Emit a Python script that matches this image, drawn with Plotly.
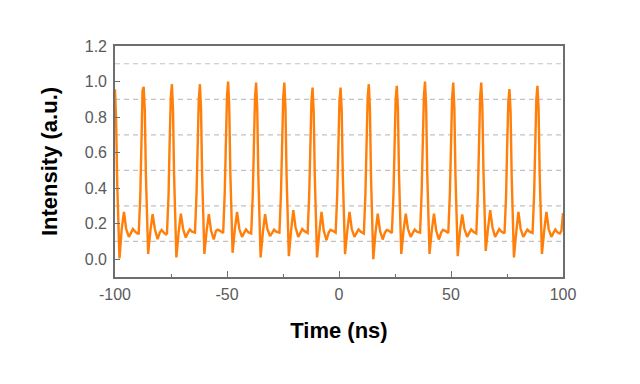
import plotly.graph_objects as go

# Time axis samples (ns), one row per pulse
time_ns = [
    -100.0, -99.5, -99.0, -98.5, -98.0, -97.0, -96.0, -95.0, -93.8, -92.8, -92.0, -91.0, -90.0,
    -89.4, -88.7, -88.2, -87.7, -87.2, -86.7, -86.2, -85.7, -85.2, -84.2, -83.2, -82.2, -81.0, -80.0, -79.2, -78.2, -77.2,
    -76.8, -76.1, -75.6, -75.1, -74.6, -74.1, -73.6, -73.1, -72.6, -71.6, -70.6, -69.6, -68.4, -67.4, -66.6, -65.6, -64.6,
    -64.3, -63.6, -63.1, -62.6, -62.1, -61.6, -61.1, -60.6, -60.1, -59.1, -58.1, -57.1, -55.9, -54.9, -54.1, -53.1, -52.1,
    -51.7, -51.0, -50.5, -50.0, -49.5, -49.0, -48.5, -48.0, -47.5, -46.5, -45.5, -44.5, -43.3, -42.3, -41.5, -40.5, -39.5,
    -39.2, -38.5, -38.0, -37.5, -37.0, -36.5, -36.0, -35.5, -35.0, -34.0, -33.0, -32.0, -30.8, -29.8, -29.0, -28.0, -27.0,
    -26.6, -25.9, -25.4, -24.9, -24.4, -23.9, -23.4, -22.9, -22.4, -21.4, -20.4, -19.4, -18.2, -17.2, -16.4, -15.4, -14.4,
    -14.0, -13.3, -12.8, -12.3, -11.8, -11.3, -10.8, -10.3, -9.8, -8.8, -7.8, -6.8, -5.6, -4.6, -3.8, -2.8, -1.8,
    -1.5, -0.8, -0.3, 0.2, 0.7, 1.2, 1.7, 2.2, 2.7, 3.7, 4.7, 5.7, 6.9, 7.9, 8.7, 9.7, 10.7,
    11.1, 11.8, 12.3, 12.8, 13.3, 13.8, 14.3, 14.8, 15.3, 16.3, 17.3, 18.3, 19.5, 20.5, 21.3, 22.3, 23.3,
    23.6, 24.3, 24.8, 25.3, 25.8, 26.3, 26.8, 27.3, 27.8, 28.8, 29.8, 30.8, 32.0, 33.0, 33.8, 34.8, 35.8,
    36.2, 36.9, 37.4, 37.9, 38.4, 38.9, 39.4, 39.9, 40.4, 41.4, 42.4, 43.4, 44.6, 45.6, 46.4, 47.4, 48.4,
    48.8, 49.5, 50.0, 50.5, 51.0, 51.5, 52.0, 52.5, 53.0, 54.0, 55.0, 56.0, 57.2, 58.2, 59.0, 60.0, 61.0,
    61.3, 62.0, 62.5, 63.0, 63.5, 64.0, 64.5, 65.0, 65.5, 66.5, 67.5, 68.5, 69.7, 70.7, 71.5, 72.5, 73.5,
    73.9, 74.6, 75.1, 75.6, 76.1, 76.6, 77.1, 77.6, 78.1, 79.1, 80.1, 81.1, 82.3, 83.3, 84.1, 85.1, 86.1,
    86.4, 87.1, 87.6, 88.1, 88.6, 89.1, 89.6, 90.1, 90.6, 91.6, 92.6, 93.6, 94.8, 95.8, 96.6, 97.6, 98.6, 99.3, 100.0,
]

intensity = [
    0.957, 0.78, 0.42, 0.12, 0.004, 0.17, 0.267, 0.17, 0.126, 0.15, 0.170, 0.155, 0.145,
    0.145, 0.36, 0.65, 0.95, 0.970, 0.84, 0.47, 0.15, 0.030, 0.16, 0.254, 0.17, 0.113, 0.15, 0.165, 0.150, 0.140,
    0.145, 0.36, 0.66, 0.91, 0.985, 0.84, 0.46, 0.14, 0.010, 0.15, 0.257, 0.17, 0.122, 0.15, 0.168, 0.155, 0.148,
    0.150, 0.37, 0.66, 0.90, 0.985, 0.85, 0.47, 0.15, 0.030, 0.16, 0.254, 0.16, 0.111, 0.16, 0.166, 0.160, 0.150,
    0.148, 0.38, 0.68, 0.92, 1.000, 0.86, 0.48, 0.16, 0.036, 0.17, 0.267, 0.17, 0.126, 0.15, 0.168, 0.152, 0.145,
    0.145, 0.36, 0.67, 0.91, 0.994, 0.85, 0.46, 0.14, 0.010, 0.15, 0.254, 0.17, 0.130, 0.15, 0.167, 0.155, 0.148,
    0.150, 0.37, 0.66, 0.91, 0.994, 0.85, 0.47, 0.15, 0.017, 0.16, 0.276, 0.18, 0.126, 0.15, 0.170, 0.158, 0.150,
    0.148, 0.36, 0.65, 0.89, 0.966, 0.83, 0.46, 0.14, 0.010, 0.15, 0.267, 0.16, 0.107, 0.15, 0.166, 0.160, 0.152,
    0.150, 0.36, 0.65, 0.89, 0.966, 0.84, 0.47, 0.15, 0.028, 0.16, 0.267, 0.17, 0.126, 0.15, 0.168, 0.155, 0.146,
    0.145, 0.37, 0.67, 0.91, 0.985, 0.85, 0.46, 0.13, 0.000, 0.15, 0.257, 0.16, 0.111, 0.15, 0.165, 0.160, 0.150,
    0.148, 0.36, 0.66, 0.90, 0.976, 0.85, 0.47, 0.15, 0.030, 0.16, 0.257, 0.17, 0.126, 0.15, 0.167, 0.155, 0.148,
    0.150, 0.38, 0.68, 0.92, 1.000, 0.86, 0.48, 0.15, 0.030, 0.16, 0.257, 0.16, 0.111, 0.15, 0.166, 0.160, 0.150,
    0.148, 0.37, 0.67, 0.91, 0.994, 0.85, 0.47, 0.14, 0.017, 0.16, 0.252, 0.17, 0.126, 0.15, 0.168, 0.155, 0.146,
    0.145, 0.37, 0.67, 0.91, 0.994, 0.86, 0.49, 0.17, 0.047, 0.17, 0.276, 0.18, 0.126, 0.15, 0.170, 0.156, 0.148,
    0.150, 0.36, 0.65, 0.89, 0.957, 0.83, 0.46, 0.14, 0.010, 0.15, 0.267, 0.17, 0.126, 0.15, 0.167, 0.155, 0.148,
    0.148, 0.36, 0.66, 0.90, 0.976, 0.85, 0.47, 0.15, 0.030, 0.16, 0.267, 0.17, 0.126, 0.15, 0.168, 0.150, 0.145, 0.160, 0.260,
]

x_tick_vals = [-100, -50, 0, 50, 100]
x_tick_text = ["-100", "-50", "0", "50", "100"]
y_tick_vals = [0.0, 0.2, 0.4, 0.6, 0.8, 1.0, 1.2]
y_tick_text = ["0.0", "0.2", "0.4", "0.6", "0.8", "1.0", "1.2"]
grid_levels = [0.1, 0.3, 0.5, 0.7, 0.9, 1.1]

FONT = "Liberation Sans, Arial, sans-serif"
AXIS_COLOR = "#6e6e6e"
TICK_FONT = dict(family=FONT, size=16, color="#5a5a5a")

fig = go.Figure()
fig.add_trace(go.Scatter(
    x=time_ns, y=intensity, mode="lines",
    line=dict(color="#ff7f0a", width=2.4),
    showlegend=False, hoverinfo="skip",
))

for lvl in grid_levels:
    fig.add_shape(type="line", xref="x domain", yref="y", x0=0, x1=1, y0=lvl, y1=lvl,
                  line=dict(color="#c2c2c2", width=1.2, dash="5px,4px"), layer="below")

# page body adds an 8px offset, so the figure is sized to fit the window
fig.update_layout(
    width=632, height=376,
    margin=dict(l=107, r=77, t=38, b=107),
    paper_bgcolor="white", plot_bgcolor="white",
    font=dict(family=FONT),
)

fig.update_xaxes(
    range=[-100, 100],
    tickmode="array", tickvals=x_tick_vals, ticktext=x_tick_text,
    ticks="inside", ticklen=6, tickwidth=1.3, tickcolor=AXIS_COLOR,
    minor=dict(dtick=25, tick0=0, ticks="inside", ticklen=3, tickwidth=1.3, tickcolor=AXIS_COLOR, showgrid=False),
    showline=True, linecolor=AXIS_COLOR, linewidth=1.6, mirror=True,
    showgrid=False, zeroline=False,
    tickfont=TICK_FONT, ticklabelstandoff=2,
    title=dict(text="<b>Time (ns)</b>", font=dict(family=FONT, size=22, color="black"), standoff=21),
)

fig.update_yaxes(
    range=[-0.1, 1.2],
    tickmode="array", tickvals=y_tick_vals, ticktext=y_tick_text,
    ticks="inside", ticklen=5, tickwidth=1.3, tickcolor=AXIS_COLOR,
    showline=True, linecolor=AXIS_COLOR, linewidth=1.6, mirror=True,
    showgrid=False, zeroline=False,
    tickfont=TICK_FONT, ticklabelstandoff=3,
    title=dict(text="<b>Intensity (a.u.)</b>", font=dict(family=FONT, size=22, color="black"), standoff=21),
)

fig.write_html("out.html")
